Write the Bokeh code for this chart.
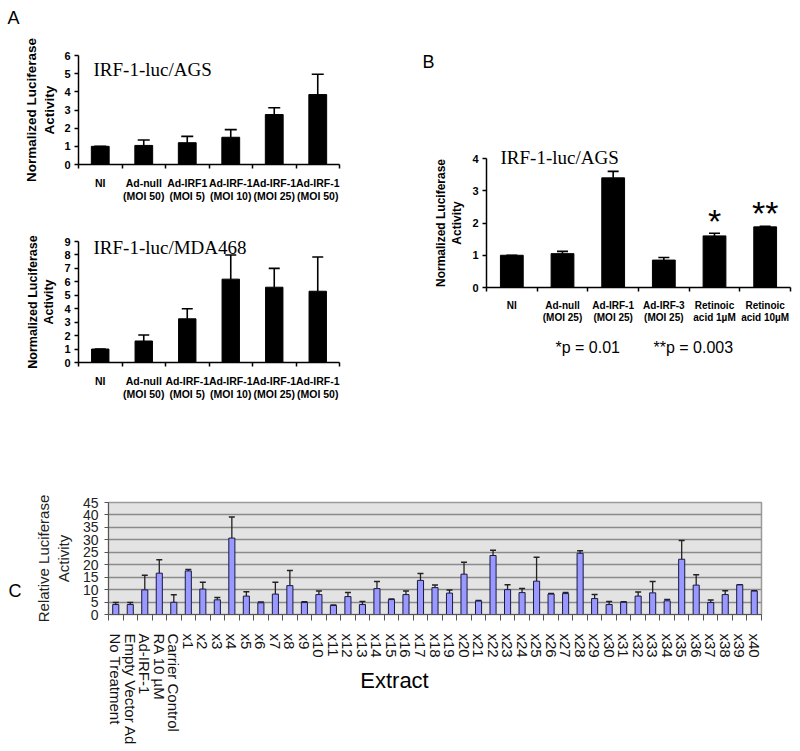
from bokeh.plotting import figure
from bokeh.models import Range1d, FixedTicker, Whisker, TeeHead, ColumnDataSource, Label, GridBox
from bokeh.layouts import column, row
from bokeh.embed import file_html
from bokeh.resources import INLINE

# ---------------- data ----------------
a1_labels = ["NI", "Ad-null\n(MOI 50)", "Ad-IRF1\n(MOI 5)", "Ad-IRF-1\n(MOI 10)",
             "Ad-IRF-1\n(MOI 25)", "Ad-IRF-1\n(MOI 50)"]
a1_values = [1.0, 1.05, 1.2, 1.5, 2.75, 3.85]
a1_upper = [1.0, 1.35, 1.55, 1.92, 3.12, 4.97]

a2_labels = ["NI", "Ad-null\n(MOI 50)", "Ad-IRF-1\n(MOI 5)", "Ad-IRF-1\n(MOI 10)",
             "Ad-IRF-1\n(MOI 25)", "Ad-IRF-1\n(MOI 50)"]
a2_values = [1.0, 1.6, 3.25, 6.2, 5.6, 5.3]
a2_upper = [1.0, 2.05, 4.0, 8.0, 7.0, 7.85]

b_labels = ["NI", "Ad-null\n(MOI 25)", "Ad-IRF-1\n(MOI 25)", "Ad-IRF-3\n(MOI 25)",
            "Retinoic\nacid 1µM", "Retinoic\nacid 10µM"]
b_values = [1.0, 1.05, 3.4, 0.85, 1.6, 1.88]
b_upper = [1.0, 1.12, 3.6, 0.93, 1.68, 1.9]

c_labels = ["No Treatment", "Empty Vector Ad", "Ad-IRF-1", "RA 10 µM", "Carrier Control",
            "x1", "x2", "x3", "x4", "x5", "x6", "x7", "x8", "x9", "x10",
            "x11", "x12", "x13", "x14", "x15", "x16", "x17", "x18", "x19", "x20",
            "x21", "x22", "x23", "x24", "x25", "x26", "x27", "x28", "x29", "x30",
            "x31", "x32", "x33", "x34", "x35", "x36", "x37", "x38", "x39", "x40"]
c_values = [4.0, 4.0, 9.9, 16.6, 4.9,
            17.5, 10.2, 5.9, 30.7, 7.4, 4.7, 8.2, 11.6, 4.8, 8.0,
            3.6, 7.2, 4.0, 10.4, 6.0, 8.0, 13.7, 10.8, 8.6, 16.2,
            5.4, 23.7, 10.0, 8.8, 13.4, 8.2, 8.4, 24.6, 6.4, 4.0,
            4.9, 7.4, 8.7, 5.5, 22.2, 11.8, 4.8, 8.0, 11.9, 9.4]
c_upper = [4.8, 4.8, 15.8, 22.0, 7.9,
           18.1, 13.0, 6.8, 39.2, 9.1, 5.0, 13.0, 17.7, 5.1, 9.4,
           3.8, 8.8, 5.2, 13.3, 6.2, 9.4, 16.5, 11.9, 9.8, 21.0,
           5.6, 25.8, 12.0, 10.4, 23.0, 8.4, 8.8, 25.6, 8.0, 5.2,
           5.1, 9.0, 13.3, 6.0, 29.7, 16.0, 5.8, 9.5, 12.0, 9.5]

SANS = "Liberation Sans"
SERIF = "Liberation Serif"


def bar_panel(labels, values, upper, ymax, w, h, borders, bar_w,
              ylabel_size="13px", ylabel_standoff=2, xlabel_standoff=8,
              xlabel_size="10.5px", cap=11):
    n = len(labels)
    xs = [i + 0.5 for i in range(n)]
    p = figure(width=w, height=h, x_range=Range1d(0, n), y_range=Range1d(0, ymax),
               output_backend="svg", toolbar_location=None,
               min_border_left=borders[0], min_border_right=borders[1],
               min_border_top=borders[2], min_border_bottom=borders[3])
    p.outline_line_color = None
    p.xgrid.visible = False
    p.ygrid.visible = False
    src = ColumnDataSource(dict(x=xs, value=values, upper=upper))
    p.vbar(x="x", top="value", width=bar_w, source=src, fill_color="black", line_color="black")
    p.add_layout(Whisker(source=src, base="x", lower="value", upper="upper", dimension="height",
                         line_color="black", line_width=1.6,
                         upper_head=TeeHead(size=cap, line_color="black", line_width=1.6),
                         lower_head=None))
    xa = p.xaxis[0]
    xa.ticker = FixedTicker(ticks=xs, minor_ticks=list(range(n + 1)))
    xa.major_label_overrides = {x: lab for x, lab in zip(xs, labels)}
    xa.major_tick_out = 0
    xa.major_tick_in = 0
    xa.minor_tick_out = 4
    xa.minor_tick_in = 0
    xa.axis_line_width = 1.5
    xa.minor_tick_line_width = 1.5
    xa.major_label_text_font = SANS
    xa.major_label_text_font_style = "bold"
    xa.major_label_text_font_size = xlabel_size
    xa.major_label_text_line_height = 1.15
    xa.major_label_standoff = xlabel_standoff
    xa.major_label_text_color = "black"
    ya = p.yaxis[0]
    ya.ticker = FixedTicker(ticks=list(range(0, ymax + 1)))
    ya.major_tick_out = 4
    ya.major_tick_in = 0
    ya.minor_tick_out = 0
    ya.minor_tick_in = 0
    ya.axis_line_width = 1.5
    ya.major_tick_line_width = 1.5
    ya.major_label_text_font = SANS
    ya.major_label_text_font_style = "bold"
    ya.major_label_text_font_size = "11px"
    ya.major_label_text_color = "black"
    ya.major_label_standoff = 4
    ya.axis_label = "Normalized Luciferase\nActivity"
    ya.axis_label_text_font = SANS
    ya.axis_label_text_font_style = "bold"
    ya.axis_label_text_font_size = ylabel_size
    ya.axis_label_text_color = "black"
    ya.axis_label_standoff = ylabel_standoff
    return p


# ---------------- Panel A ----------------
pA1 = bar_panel(a1_labels, a1_values, a1_upper, 6, 400, 205, (75, 61, 55, 41), 0.41,
                ylabel_size="13.5px", ylabel_standoff=4, xlabel_standoff=8, cap=12)
pA2 = bar_panel(a2_labels, a2_values, a2_upper, 9, 400, 198, (78, 54, 36, 40), 0.4,
                ylabel_size="12.5px", ylabel_standoff=5, xlabel_standoff=8, cap=11)

# ---------------- Panel B ----------------
pB = bar_panel(b_labels, b_values, b_upper, 4, 400, 403, (86, 10, 158, 116), 0.45,
               ylabel_size="12px", ylabel_standoff=5, xlabel_standoff=8,
               xlabel_size="10px", cap=11)
pB.add_layout(Label(x=4.5, y=2.05, text="*", text_font=SANS, text_font_size="34px",
                    text_color="black", text_baseline="alphabetic", text_align="center"))
pB.add_layout(Label(x=5.5, y=2.30, text="**", text_font=SANS, text_font_size="34px",
                    text_color="black", text_baseline="alphabetic", text_align="center"))

# ---------------- Panel C ----------------
nC = len(c_labels)
xsC = [i + 0.5 for i in range(nC)]
pC = figure(width=800, height=348, x_range=Range1d(0, nC), y_range=Range1d(0, 45),
            output_backend="svg", toolbar_location=None,
            min_border_left=108, min_border_right=39, min_border_top=99, min_border_bottom=137)
pC.background_fill_color = "#e3e3e3"
pC.outline_line_color = "#9a9a9a"
pC.outline_line_width = 1.5
pC.xgrid.visible = False
pC.ygrid.grid_line_color = "#8a8a8a"
pC.ygrid.grid_line_width = 1.5
pC.ygrid.ticker = FixedTicker(ticks=list(range(5, 50, 5)))
srcC = ColumnDataSource(dict(x=xsC, value=c_values, upper=c_upper))
pC.vbar(x="x", top="value", width=0.42, source=srcC, fill_color="#9999ff",
        line_color="#1a1a40", line_width=1)
pC.add_layout(Whisker(source=srcC, base="x", lower="value", upper="upper", dimension="height",
                      line_color="#222222", line_width=1.3,
                      upper_head=TeeHead(size=6, line_color="#222222", line_width=1.5),
                      lower_head=None))
xa = pC.xaxis[0]
xa.ticker = FixedTicker(ticks=xsC, minor_ticks=list(range(nC + 1)))
xa.major_label_overrides = {x: lab for x, lab in zip(xsC, c_labels)}
xa.major_label_orientation = "vertical"
xa.major_tick_out = 0
xa.major_tick_in = 0
xa.minor_tick_out = 6
xa.minor_tick_in = 0
xa.axis_line_color = "#555555"
xa.minor_tick_line_color = "#555555"
xa.major_label_text_font = SANS
xa.major_label_text_font_size = "15px"
xa.major_label_text_color = "#111111"
xa.major_label_standoff = 13
ya = pC.yaxis[0]
ya.ticker = FixedTicker(ticks=list(range(0, 50, 5)))
ya.major_tick_out = 4
ya.major_tick_in = 0
ya.minor_tick_out = 0
ya.minor_tick_in = 0
ya.axis_line_color = "#555555"
ya.major_tick_line_color = "#555555"
ya.major_label_text_font = SANS
ya.major_label_text_font_size = "14px"
ya.major_label_text_color = "#222222"
ya.major_label_standoff = 6
ya.axis_label = "Relative Luciferase\nActivity"
ya.axis_label_text_font = SANS
ya.axis_label_text_font_style = "normal"
ya.axis_label_text_font_size = "15px"
ya.axis_label_text_color = "#222222"
ya.axis_label_standoff = 8

# ---------------- transparent overlay for free-standing texts ----------------
ov = figure(width=800, height=751, x_range=Range1d(0, 800), y_range=Range1d(751, 0),
            output_backend="svg", toolbar_location=None, title=None,
            x_axis_location=None, y_axis_location=None,
            min_border=0, min_border_left=0, min_border_right=0,
            min_border_top=0, min_border_bottom=0)
ov.xgrid.visible = False
ov.ygrid.visible = False
ov.outline_line_color = None
ov.background_fill_color = None
ov.border_fill_color = None


def txt(x, y, text, font, size, baseline="middle", align="left"):
    ov.add_layout(Label(x=x, y=y, text=text, text_font=font, text_font_size=size,
                        text_color="black", text_baseline=baseline, text_align=align))


txt(7, 17, "A", SANS, "18px")
txt(93, 69, "IRF-1-luc/AGS", SERIF, "19px", baseline="alphabetic")
txt(93, 247, "IRF-1-luc/MDA468", SERIF, "19px", baseline="alphabetic")
txt(422, 61, "B", SANS, "18px")
txt(500, 157, "IRF-1-luc/AGS", SERIF, "19px", baseline="alphabetic")
txt(555, 347, "*p = 0.01", SANS, "16px", baseline="alphabetic")
txt(653, 347, "**p = 0.003", SANS, "16px", baseline="alphabetic")
txt(8, 590, "C", SANS, "18px")
txt(394, 680, "Extract", SANS, "22px", align="center")

main = column(row(column(pA1, pA2), pB), pC)
page = GridBox(children=[(main, 0, 0), (ov, 0, 0)])
open("out.html", "w").write(file_html(page, INLINE))
